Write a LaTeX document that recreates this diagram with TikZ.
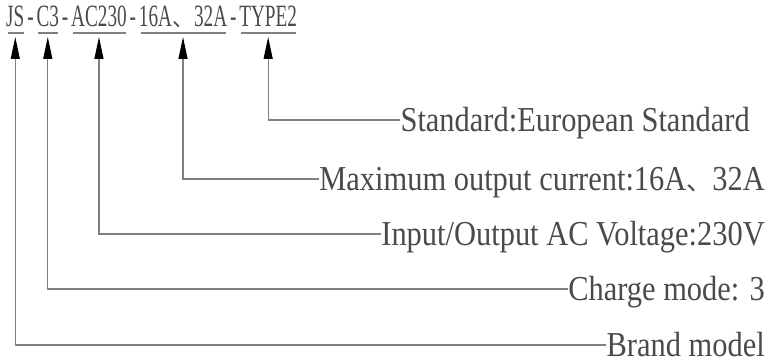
\documentclass[tikz,border=0pt]{standalone}
\usepackage{fontspec}
\setmainfont{Liberation Serif}[FakeStretch=0.87]
\newfontfamily\topfont{Liberation Serif}[FakeStretch=0.62]
\newfontfamily\cjk{Noto Sans CJK SC}
\usetikzlibrary{arrows.meta}
\definecolor{txt}{HTML}{4A4A4A}
\definecolor{ln}{HTML}{808080}
\tikzset{
  seg/.style={inner sep=0pt, anchor=base west, text=txt, font=\topfont\fontsize{31}{31}\selectfont},
  dsh/.style={seg, inner xsep=2.5pt},
  lbl/.style={inner sep=0pt, anchor=east, text=txt, text height=23pt, text depth=0pt, font=\fontsize{35}{35}\selectfont},
  conn/.style={draw=ln, line width=1.1pt, -{Triangle[length=22pt,width=9pt,color=black]}},
  uline/.style={draw=ln, line width=1.1pt}
}
\begin{document}
\begin{tikzpicture}[x=1pt,y=-1pt]
\useasboundingbox (0,0) rectangle (777,363);
% top code segments
\node[seg] (js) at (6,27) {JS};
\node[dsh] (d1) at (js.base east) {-};
\node[seg] (c3) at (d1.base east) {C3};
\node[dsh] (d2) at (c3.base east) {-};
\node[seg] (ac) at (d2.base east) {AC230};
\node[dsh] (d3) at (ac.base east) {-};
\node[seg] (cur) at (d3.base east) {16A{\cjk\fontsize{22}{22}\selectfont 、}32A};
\node[dsh] (d4) at (cur.base east) {-};
\node[seg] (ty) at (d4.base east) {TYPE2};
\coordinate (u) at (0,33);
\coordinate (t) at (0,37);
\foreach \n in {js,c3,ac,cur,ty}{
  \draw[uline] ([xshift=2pt]\n.west |- u) -- ([xshift=-1pt]\n.east |- u);
}
% labels
\node[lbl] (std) at (750,120) {Standard:European Standard};
\node[lbl] (max) at (765,179) {Maximum output current:16A{\cjk\fontsize{26}{26}\selectfont 、}32A};
\node[lbl] (inp) at (765,234) {Input/Output AC Voltage:230V};
\node[lbl] (chg) at (765,289) {Charge mode: 3};
\node[lbl] (brd) at (765,345) {Brand model};
% connectors
\draw[conn] (std.west) -| (ty.south |- t);
\draw[conn] (max.west) -| (cur.south |- t);
\draw[conn] (inp.west) -| (ac.south |- t);
\draw[conn] (chg.west) -| (c3.south |- t);
\draw[conn] (brd.west) -| (js.south |- t);
\end{tikzpicture}
\end{document}
